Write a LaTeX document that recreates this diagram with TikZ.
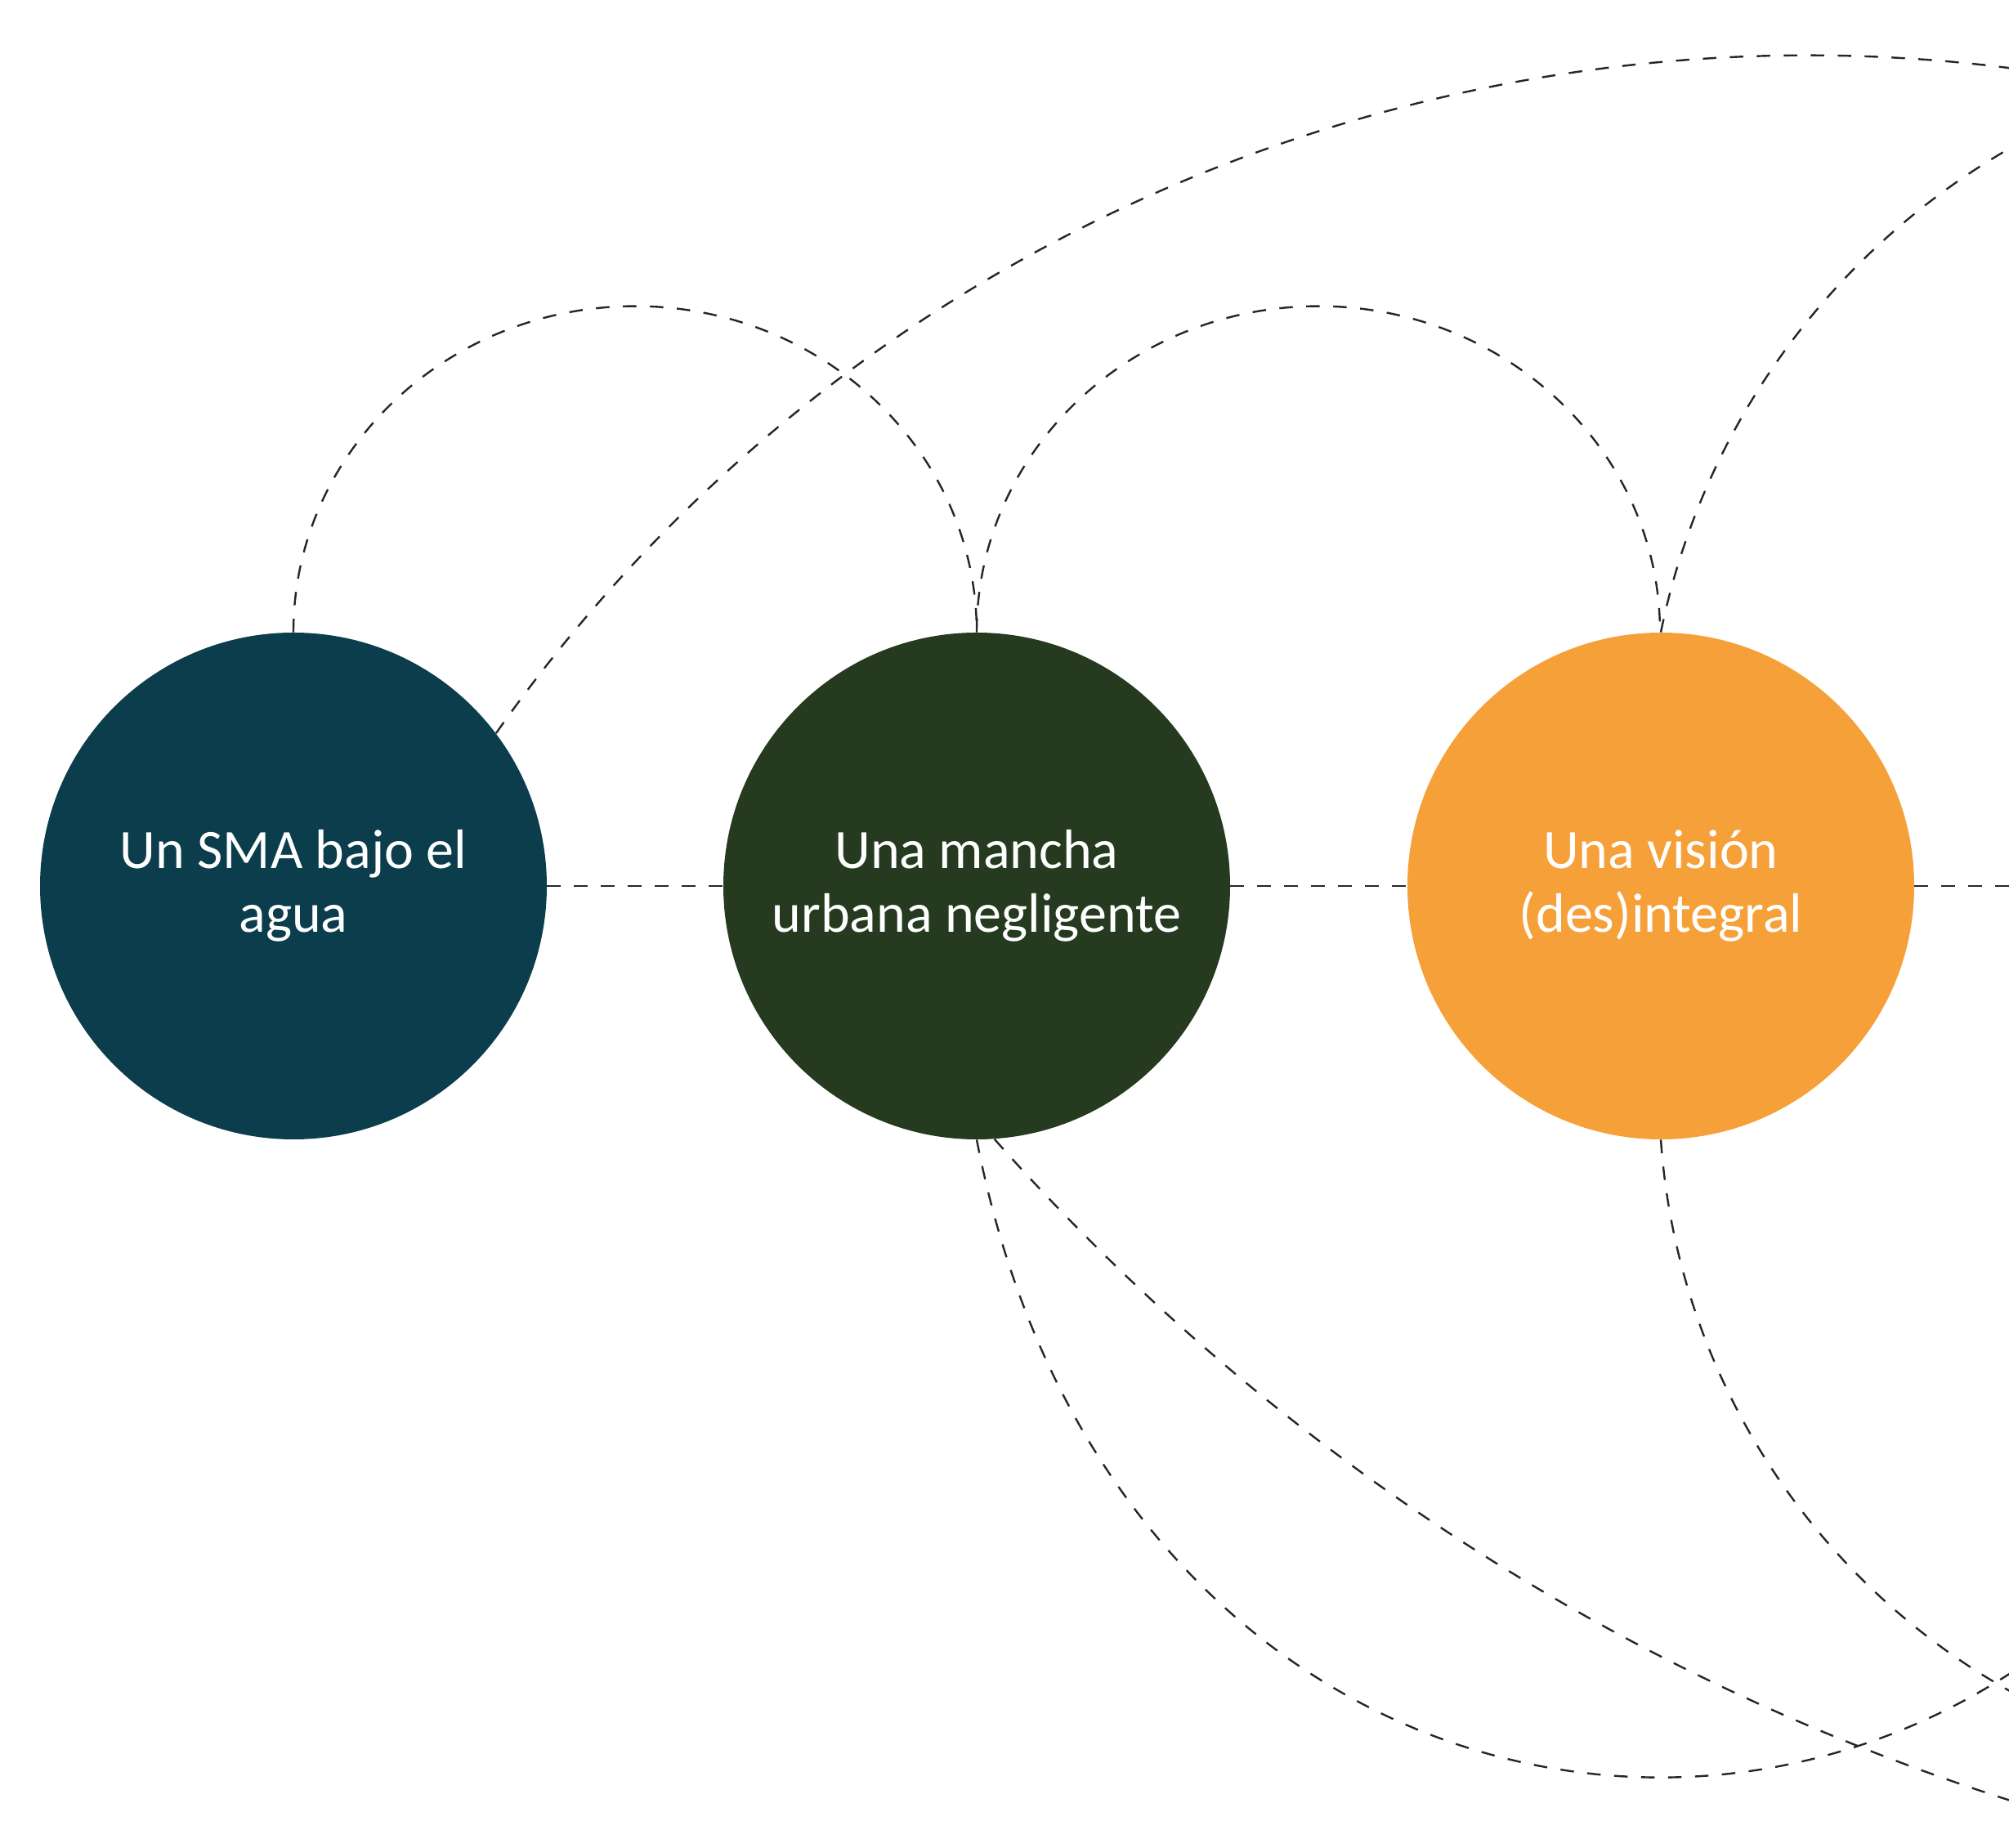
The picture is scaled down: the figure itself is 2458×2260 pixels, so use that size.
\documentclass[tikz,border=0pt]{standalone}
\usepackage{fontspec}
\setmainfont{Carlito}
\definecolor{cTeal}{RGB}{11,61,77}
\definecolor{cGreen}{RGB}{37,58,31}
\definecolor{cOrange}{RGB}{246,160,58}
\begin{document}
\begin{tikzpicture}[x=0.5pt,y=0.5pt,
  bubble/.style={circle, minimum size=310pt, inner sep=0pt, text=white, align=center,
    font=\fontsize{34}{39}\selectfont},
  link/.style={draw=black!85, line width=1.2pt, dash pattern=on 8.25pt off 8.25pt}]
\useasboundingbox (0,0) rectangle (2458,2260);
\clip (0,0) rectangle (2458,2260);
\node[bubble, fill=cTeal] (c1) at (359,1176) {Un SMA bajo el\\agua};
\node[bubble, fill=cGreen] (c2) at (1195,1176) {Una mancha\\urbana negligente};
\node[bubble, fill=cOrange] (c3) at (2032,1176) {Una visión\\(des)integral};
\coordinate (c4w) at (2558,1176);
\coordinate (c4s) at (2868,867);
% horizontal links
\draw[link] (c1.east) -- (c2.west);
\draw[link] (c2.east) -- (c3.west);
\draw[link] (c3.east) -- (c4w);
% upper arcs
\draw[link] (c1.north) arc[start angle=180, end angle=0, x radius=418, y radius=399];
\draw[link] (c2.north) arc[start angle=180, end angle=0, x radius=418, y radius=399];
\draw[link] (c1.37.8) arc[start angle=145.2, end angle=75, x radius=1954, y radius=1932];
\draw[link] (c3.north) arc[start angle=168.5, end angle=105, radius=887];
% lower arcs
\draw[link] (c2.-86) arc[start angle=221.5, end angle=256, radius=2786];
\draw[link] (c2.south) .. controls (1396,-175) and (2667,-175) .. (c4s);
\draw[link] (c3.south) arc[start angle=184, end angle=250, radius=841];
\end{tikzpicture}
\end{document}
